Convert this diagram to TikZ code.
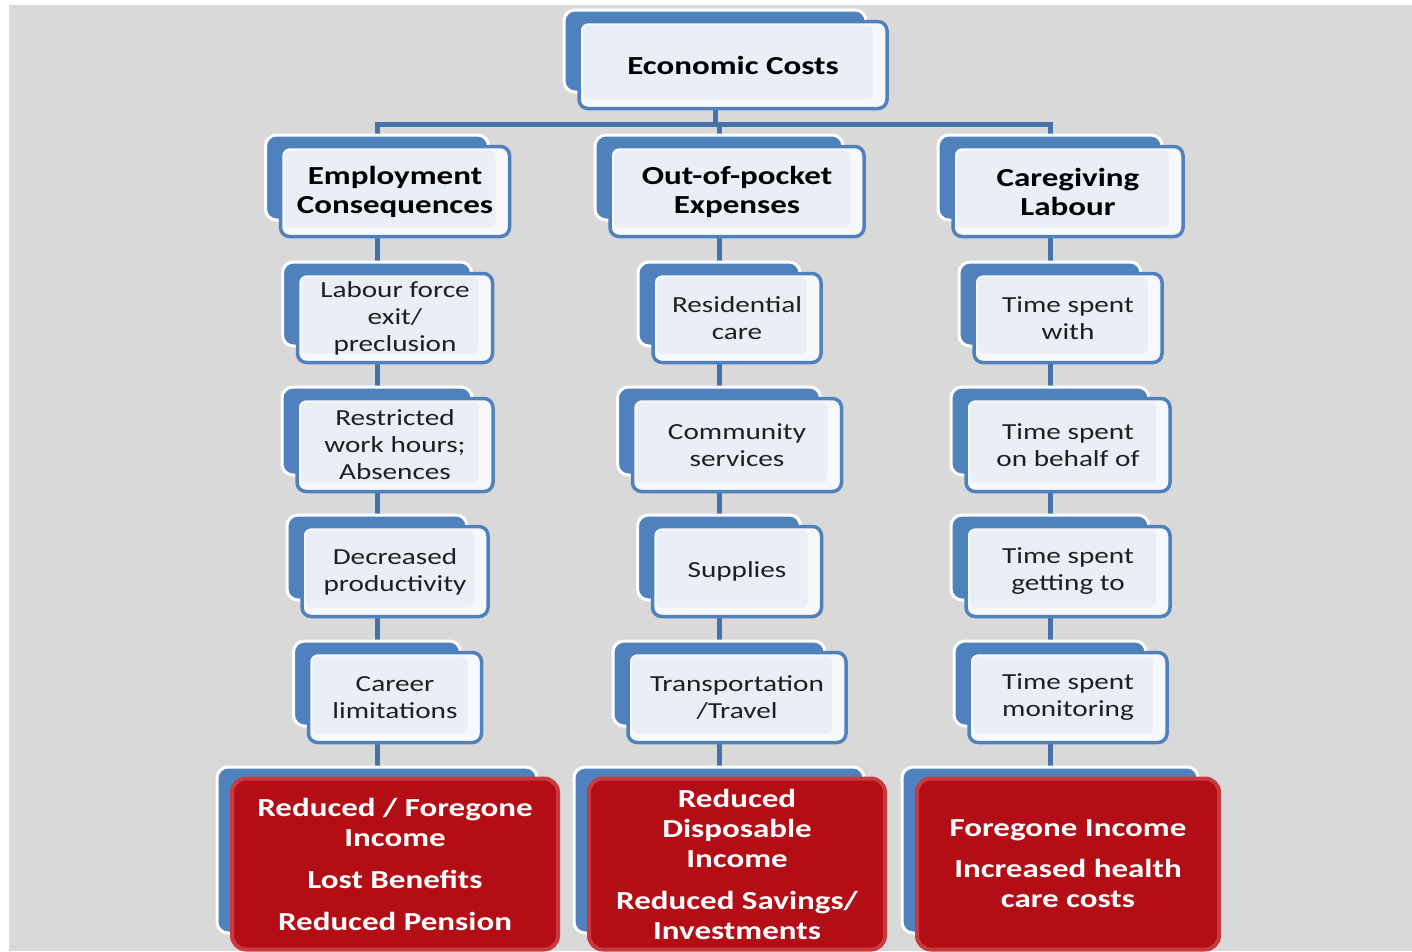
\documentclass[tikz,border=0pt]{standalone}
\usepackage{fontspec}
\setmainfont{Carlito}[FakeStretch=1.27]
\usetikzlibrary{backgrounds}
\definecolor{bgray}{HTML}{D9D9D9}
\definecolor{accblue}{HTML}{4F81BD}
\definecolor{lineblue}{HTML}{4672AA}
\definecolor{frontin}{HTML}{E9EEF7}
\definecolor{frontout}{HTML}{F6F8FB}
\definecolor{redfill}{HTML}{B30E16}
\definecolor{rededge}{HTML}{C83A3E}
\tikzset{
  backbox/.style={draw=white, line width=3pt, fill=accblue, rounded corners=11pt, inner sep=0pt},
  frontbox/.style={draw=accblue, line width=3.5pt, fill=frontout, rounded corners=9pt, inner sep=0pt, align=center, text=black,
    path picture={\fill[frontin, rounded corners=5pt] ([shift={(4pt,-4pt)}]path picture bounding box.north west) rectangle ([shift={(-14pt,9pt)}]path picture bounding box.south east);}},
  redbox/.style={draw=rededge, line width=4pt, fill=redfill, rounded corners=14pt, inner sep=0pt, align=center, text=white, font=\fontsize{26}{30}\selectfont\bfseries},
  conn/.style={draw=lineblue, line width=5pt},
  bigtxt/.style={font=\fontsize{26}{29}\selectfont\bfseries},
  smalltxt/.style={font=\fontsize{23}{27}\selectfont, text=black!88},
}
\newcommand\pairbox[7]{%
  \node[backbox, minimum width=#4, minimum height=#5] (#1B) at (#2,#3) {};
  \node[#6, minimum width={#4+6}, minimum height={#5+5}] (#1) at ({#2+18},{#3+14}) {#7};
}
\begin{document}
\begin{tikzpicture}[x=1pt,y=-1pt]
\useasboundingbox (0,0) rectangle (1412,951);
\begin{pgfonlayer}{background}
  \fill[white] (0,0) rectangle (1412,951);
  \fill[bgray] (9,5) rectangle (1412,951);
\end{pgfonlayer}
% top
\pairbox{ec}{715}{51}{302}{82}{frontbox,bigtxt}{Economic Costs}
% level 1
\pairbox{emp}{377}{177.5}{223}{85}{frontbox,bigtxt}{Employment\\Consequences}
\pairbox{out}{719}{177.5}{248}{85}{frontbox,bigtxt}{Out-of-pocket\\Expenses}
\pairbox{car}{1050}{177.5}{224}{85}{frontbox,bigtxt}{Caregiving\\Labour}
% column 1
\pairbox{lfe}{377}{304}{189}{84}{frontbox,smalltxt}{Labour force\\exit/\\preclusion}
\pairbox{rwh}{377}{431}{190}{88}{frontbox,smalltxt}{Restricted\\work hours;\\Absences}
\pairbox{dp}{377}{557.5}{180}{85}{frontbox,smalltxt}{Decreased\\productivity}
\pairbox{cl}{377}{683.5}{167}{85}{frontbox,smalltxt}{Career\\limitations}
% column 2
\pairbox{res}{719}{304}{162}{84}{frontbox,smalltxt}{Residential\\care}
\pairbox{com}{719}{431}{203}{88}{frontbox,smalltxt}{Community\\services}
\pairbox{sup}{719}{557.5}{163}{85}{frontbox,smalltxt}{Supplies}
\pairbox{tra}{719}{683.5}{212}{85}{frontbox,smalltxt}{Transportation\\/Travel}
% column 3
\pairbox{tsw}{1050}{304}{182}{84}{frontbox,smalltxt}{Time spent\\with}
\pairbox{tsb}{1050}{431}{198}{88}{frontbox,smalltxt}{Time spent\\on behalf of}
\pairbox{tsg}{1050}{557.5}{198}{85}{frontbox,smalltxt}{Time spent\\getting to}
\pairbox{tsm}{1050}{683.5}{192}{85}{frontbox,smalltxt}{Time spent\\monitoring}
% bottom
\pairbox{rl}{377}{850}{320}{166}{redbox}{Reduced / Foregone\\Income\\[12pt]Lost Benefits\\[12pt]Reduced Pension}
\pairbox{rm}{719}{850}{290}{166}{redbox}{Reduced\\Disposable\\Income\\[12pt]Reduced Savings/\\Investments}
\pairbox{rr}{1050}{850}{296}{166}{redbox}{Foregone Income\\[11pt]Increased health\\care costs}
% connectors
\begin{pgfonlayer}{background}
  \coordinate (bar) at (719,124);
  \draw[conn] (ecB.south) -- (ecB.south |- bar);
  \draw[conn] (empB.north) |- (bar) -| (carB.north);
  \draw[conn] (bar) -- (outB.north);
  \draw[conn] (empB) -- (lfeB) -- (rwhB) -- (dpB) -- (clB) -- (rlB);
  \draw[conn] (outB) -- (resB) -- (comB) -- (supB) -- (traB) -- (rmB);
  \draw[conn] (carB) -- (tswB) -- (tsbB) -- (tsgB) -- (tsmB) -- (rrB);
\end{pgfonlayer}
\end{tikzpicture}
\end{document}
